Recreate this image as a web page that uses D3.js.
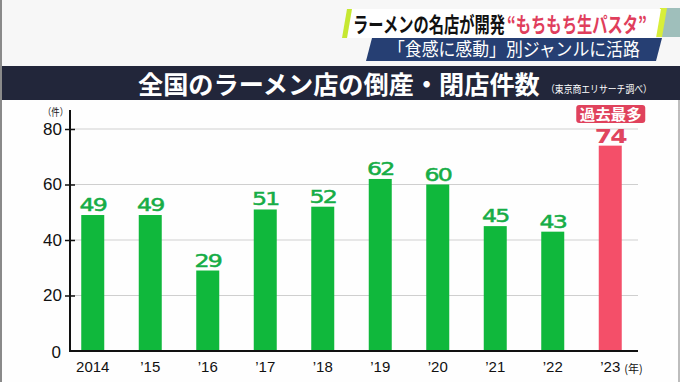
<!DOCTYPE html>
<html><head><meta charset="utf-8">
<script src="https://cdn.jsdelivr.net/npm/d3@7"></script>
<style>html,body{margin:0;padding:0;background:#f6f6f6;}svg{display:block;}</style>
</head><body>
<svg id="c" width="680" height="382"></svg>
<script>
const years = ["2014","’15","’16","’17","’18","’19","’20","’21","’22","’23"];
const counts = [49,49,29,51,52,62,60,45,43,74];
const yTicks = [0,20,40,60,80];
const title = "全国のラーメン店の倒産・閉店件数";
const source = "（東京商エリサーチ調べ）";
const headline1a = "ラーメンの名店が開発";
const headline1b = "“もちもち生パスタ”";
const headline2 = "「食感に感動」別ジャンルに活路";
const peakLabel = "過去最多";

const svg = d3.select("#c");
const JP = "'Noto Sans CJK JP','Noto Sans',sans-serif";
const NUM = "'Liberation Sans','DejaVu Sans',sans-serif";

// place text starting at (x,y), horizontally scaled to a target width
function fitText(str, x, y, width, attrs, anchor){
  const t = svg.append("text").text(str);
  Object.entries(attrs).forEach(([k,v])=>t.attr(k,v));
  const len = t.node().getComputedTextLength();
  const s = width/len;
  if(anchor==="middle") t.attr("text-anchor","middle");
  t.attr("transform",`translate(${x},${y}) scale(${s},1)`);
  return t;
}

// backgrounds
svg.append("rect").attr("x",0).attr("y",0).attr("width",680).attr("height",382).attr("fill","#f7f7f7");
svg.append("rect").attr("x",2).attr("y",100).attr("width",676).attr("height",282).attr("fill","#fefefe");
svg.append("rect").attr("x",0).attr("y",0).attr("width",2).attr("height",382).attr("fill","#8a8a8a");
svg.append("rect").attr("x",678).attr("y",100).attr("width",2).attr("height",282).attr("fill","#bdbdbd");

// headline banners
svg.append("polygon").attr("points","666,8 680,8 680,37 661,37").attr("fill","#9fbfbb");
svg.append("polygon").attr("points","660,8 667,8 662,37 655,37").attr("fill","#d8ee3a");
svg.append("polygon").attr("points","352,9 661,9 656,38 347,38").attr("fill","#ffffff");
svg.append("polygon").attr("points","347,9 352,9 347,38 342,38").attr("fill","#c6e832");
svg.append("polygon").attr("points","372,38 662,38 656,61 366,61").attr("fill","#263f73");

fitText(headline1a, 353, 32, 152, {"font-family":JP,"font-weight":"bold","font-size":21,"fill":"#111"});
fitText(headline1b, 507, 32, 140, {"font-family":JP,"font-weight":"bold","font-size":21,"fill":"#e03e5c"});
fitText(headline2, 388, 56, 252, {"font-family":JP,"font-size":18,"fill":"#fff"});

// title band
svg.append("rect").attr("x",2).attr("y",66).attr("width",678).attr("height",34).attr("fill","#22263a");
fitText(title, 138, 94, 402, {"font-family":JP,"font-weight":"bold","font-size":25,"fill":"#fff"});
fitText(source, 546, 93, 106, {"font-family":JP,"font-size":10,"fill":"#fff"});

// scales
const x = d3.scaleBand().domain(years).range([64,639]).paddingInner(0.6).paddingOuter(0.3);
const y = d3.scaleLinear().domain([0,80]).range([351,129]);
const x0 = 70, x1 = 638;

// gridlines
svg.append("g").selectAll("line").data(yTicks.filter(d=>d>0)).join("line")
  .attr("x1",x0).attr("x2",x1).attr("y1",d=>y(d)).attr("y2",d=>y(d))
  .attr("stroke","#cfcfcf").attr("stroke-width",1.2);

// bars
const peak = d3.max(counts);
svg.append("g").selectAll("rect").data(years).join("rect")
  .attr("x",d=>x(d)).attr("width",x.bandwidth())
  .attr("y",(d,i)=>y(counts[i])).attr("height",(d,i)=>y(0)-y(counts[i]))
  .attr("fill",(d,i)=>counts[i]===peak?"#f44f69":"#10b83c");

// y axis
const ya = svg.append("g").attr("transform",`translate(${x0},0)`)
  .call(d3.axisLeft(y).tickValues(yTicks).tickSize(5).tickPadding(3));
ya.select(".domain").remove();
ya.selectAll(".tick line").attr("x1",5).attr("x2",-5).attr("stroke","#111").attr("stroke-width",1.5);
ya.selectAll(".tick").filter(d=>d===0).select("line").remove();
ya.selectAll(".tick text").attr("font-family",NUM).attr("font-size",17).attr("fill","#111");
ya.selectAll(".tick").filter(d=>d===0).select("text").attr("dy","0.4em").attr("x",-9);
svg.append("line").attr("x1",x0).attr("x2",x0).attr("y1",110).attr("y2",y(0)+1).attr("stroke","#111").attr("stroke-width",2);
fitText("（件）", 43, 116, 25, {"font-family":JP,"font-size":10,"fill":"#111"});

// x axis
const xa = svg.append("g").attr("transform",`translate(0,${y(0)})`)
  .call(d3.axisBottom(x).tickSize(0).tickPadding(10));
xa.select(".domain").remove();
xa.selectAll(".tick text").attr("font-family",NUM).attr("font-size",15).attr("fill","#111");
svg.append("line").attr("x1",x0-1).attr("x2",x1).attr("y1",y(0)).attr("y2",y(0)).attr("stroke","#111").attr("stroke-width",2);
svg.append("text").attr("x",x(years[9])+x.bandwidth()/2+14).attr("y",y(0)+22).attr("font-family",JP).attr("font-size",11)
  .attr("fill","#111").text("(年)");

// value labels
svg.append("g").selectAll("text").data(years).join("text")
  .attr("transform",(d,i)=>`translate(${x(d)+x.bandwidth()/2},${y(counts[i])-(counts[i]===peak?3:4)}) scale(1.28,1)`)
  .attr("text-anchor","middle")
  .attr("font-family","'DejaVu Sans',sans-serif")
  .attr("letter-spacing",-1.5)
  .attr("font-size",(d,i)=>counts[i]===peak?19.5:18.5)
  .attr("font-weight",(d,i)=>counts[i]===peak?"bold":"normal")
  .attr("fill",(d,i)=>counts[i]===peak?"#e0455e":"#16ad46")
  .attr("stroke",(d,i)=>counts[i]===peak?"none":"#16ad46").attr("stroke-width",0.5)
  .text((d,i)=>counts[i]);

// peak badge
const pk = years[counts.indexOf(peak)];
const cx = x(pk)+x.bandwidth()/2;
svg.append("rect").attr("x",cx-34).attr("y",105).attr("width",69).attr("height",18).attr("rx",3)
  .attr("fill","#e0425c");
fitText(peakLabel, cx+0.5, 120, 62, {"font-family":JP,"font-weight":"bold","font-size":15,"fill":"#fff"}, "middle");
</script>
</body></html>
